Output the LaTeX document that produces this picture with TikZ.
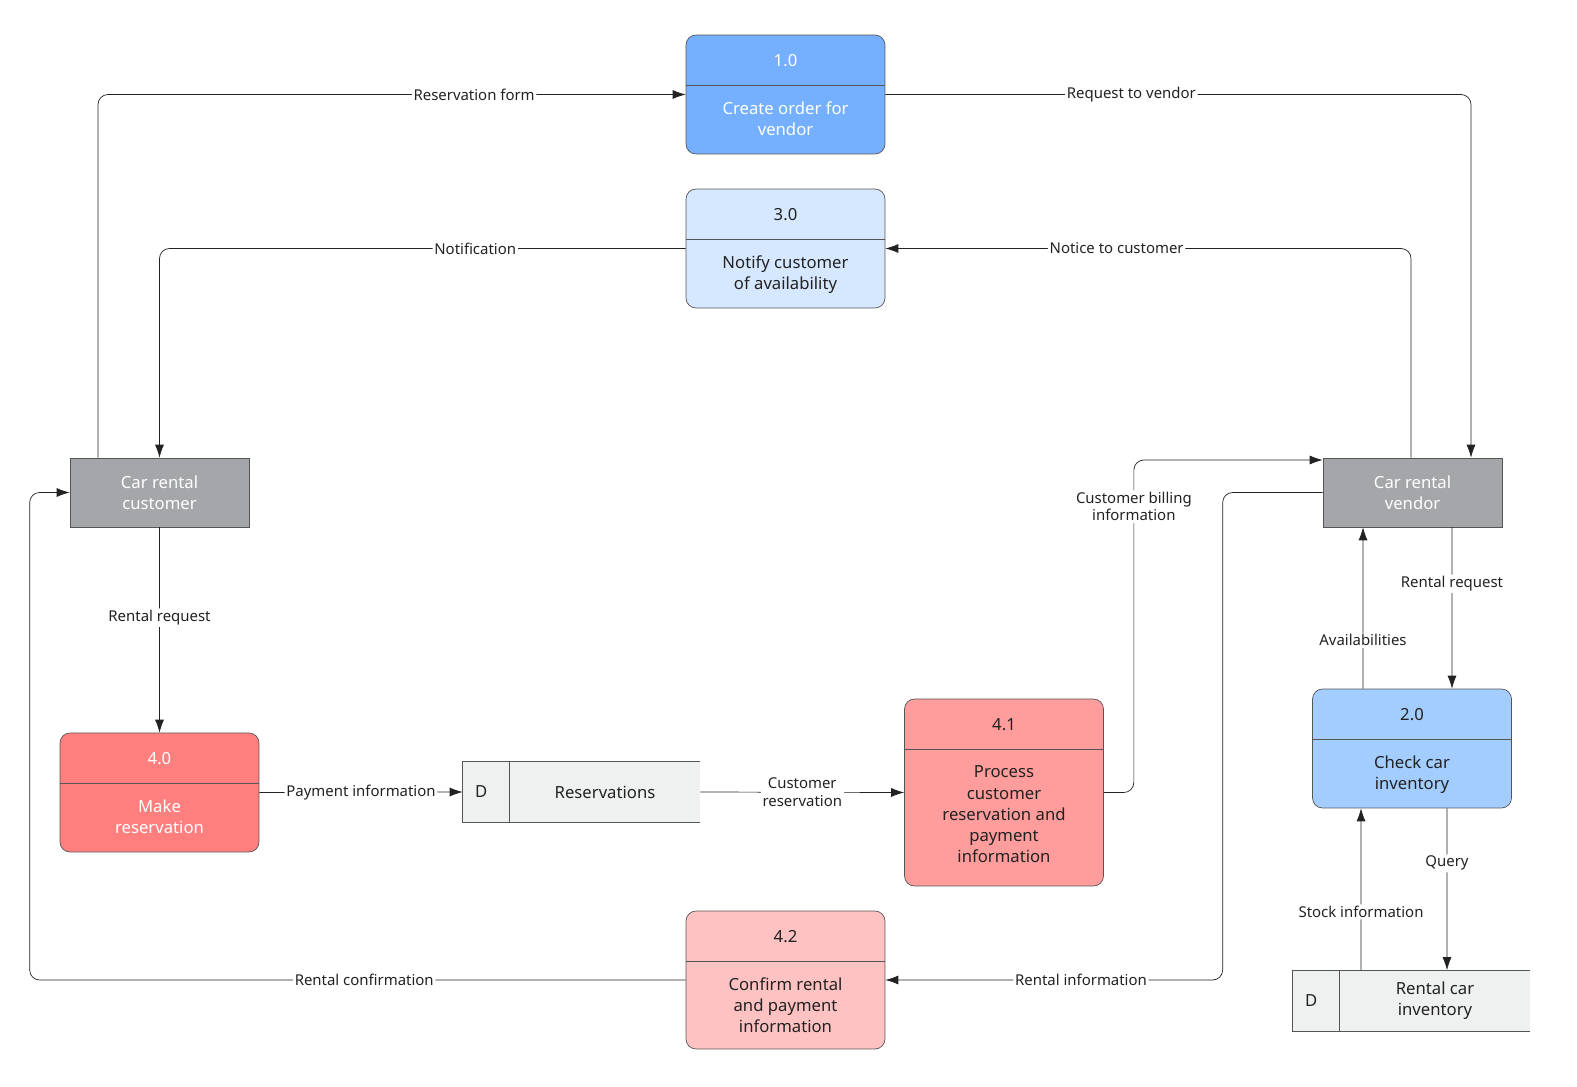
\documentclass[tikz,border=0pt]{standalone}
\usepackage{fontspec}
\setmainfont{Noto Sans}
\usetikzlibrary{arrows.meta}
\definecolor{blueA}{HTML}{74B0FF}
\definecolor{blueB}{HTML}{D6E8FF}
\definecolor{blueC}{HTML}{A3CCFF}
\definecolor{redA}{HTML}{FF7F7F}
\definecolor{redB}{HTML}{FF9C9C}
\definecolor{redC}{HTML}{FFC2C2}
\definecolor{ent}{HTML}{A5A6AA}
\definecolor{dsfill}{HTML}{EFF0F0}
\definecolor{edge}{HTML}{555555}
\definecolor{txt}{HTML}{222222}
\begin{document}
\begin{tikzpicture}[x=0.02cm,y=-0.02cm,
  proc/.style={draw=edge,rounded corners=0.2cm,minimum width=3.98cm,inner sep=0pt},
  entity/.style={draw=edge,fill=ent,text=white,minimum width=3.58cm,minimum height=1.38cm,align=center,font=\fontsize{9.5}{12}\selectfont},
  txtnode/.style={align=center,font=\fontsize{9.5}{12}\selectfont,inner sep=0pt},
  store/.style={fill=dsfill,minimum height=1.2cm,inner sep=0pt},
  lbl/.style={fill=white,inner sep=1pt,align=center,text=txt,font=\fontsize{8.5}{10}\selectfont},
  flow/.style={draw=txt,-{Latex[length=2.6mm,width=1.8mm]},rounded corners=0.2cm}]
\useasboundingbox (0,0) rectangle (1577,1087);

% processes
\node[proc,fill=blueA,minimum height=2.38cm] (p1) at (785.5,94.5) {};
\node[proc,fill=blueB,minimum height=2.38cm] (p3) at (785.5,248.5) {};
\node[proc,fill=redA,minimum height=2.38cm] (p40) at (159.5,792.5) {};
\node[proc,fill=redB,minimum height=3.74cm] (p41) at (1004,792.5) {};
\node[proc,fill=redC,minimum height=2.76cm] (p42) at (785.5,980) {};
\node[proc,fill=blueC,minimum height=2.38cm] (p20) at (1412,748.5) {};
\foreach \p/\n/\t/\c in {p1/1.0/Create order for\\vendor/white,
  p3/3.0/Notify customer\\of availability/txt,
  p40/4.0/Make\\reservation/white,
  p41/4.1/Process\\customer\\reservation and\\payment\\information/txt,
  p42/4.2/Confirm rental\\and payment\\information/txt,
  p20/2.0/Check car\\inventory/txt} {
  \draw[edge] ([yshift=-1.02cm]\p.north west) -- ([yshift=-1.02cm]\p.north east);
  \node[txtnode,text=\c] at ([yshift=-0.52cm]\p.north) {\n};
  \node[txtnode,text=\c,anchor=north] at ([yshift=-1.34cm]\p.north) {\t};
}

% entities
\node[entity] (cust) at (159.5,492.5) {Car rental\\customer};
\node[entity] (vend) at (1412.5,492.5) {Car rental\\vendor};

% data stores
\node[store,minimum width=4.74cm] (ds) at (581.5,792) {};
\node[store,minimum width=4.74cm] (ds2) at (1411.5,1000.5) {};
\foreach \d/\t in {ds/Reservations,ds2/Rental car\\inventory} {
  \draw[edge] (\d.north east) -- (\d.north west) -- (\d.south west) -- (\d.south east);
  \draw[edge] ([xshift=0.94cm]\d.north west) -- ([xshift=0.94cm]\d.south west);
  \node[txtnode,text=txt] at ([xshift=0.37cm]\d.west) {D};
  \node[txtnode,text=txt] at ([xshift=0.47cm]\d.center) {\t};
}

% flows
\draw[flow] ([xshift=-1.23cm]cust.north) |- node[lbl,pos=0.82] {Reservation form} (p1.west);
\draw[flow] (p1.east) -| node[lbl,pos=0.21] {Request to vendor} ([xshift=1.17cm]vend.north);
\draw[flow] ([xshift=-0.03cm]vend.north) |- node[lbl,pos=0.78] {Notice to customer} (p3.east);
\draw[flow] (p3.west) -| node[lbl,pos=0.2] {Notification} (cust.north);
\draw[flow] (cust.south) -- node[lbl,pos=0.44] {Rental request} (p40.north);
\draw[flow] (p40.east) -- node[lbl] {Payment information} (ds.west);
\draw[flow] (ds.east) -- node[lbl] {Customer\\reservation} (p41.west);
\draw[flow] (p41.east) -- ++(30,0) |- node[lbl,pos=0.43] {Customer billing\\information} ([yshift=0.65cm]vend.west);
\draw[flow] (vend.west) -- ++(-100,0) |- node[lbl,pos=0.71] {Rental information} (p42.east);
\draw[flow] (p42.west) -- node[lbl,pos=0.49] {Rental confirmation} ++(-656,0) |- (cust.west);
\draw[flow] ([xshift=0.79cm]vend.south) -- node[lbl,pos=0.35] {Rental request} ([xshift=0.8cm]p20.north);
\draw[flow] ([xshift=-0.98cm]p20.north) -- node[lbl,pos=0.3] {Availabilities} ([xshift=-0.99cm]vend.south);
\draw[flow] ([xshift=0.7cm]p20.south) -- node[lbl,pos=0.34] {Query} ([xshift=0.71cm]ds2.north);
\draw[flow] ([xshift=-1.01cm]ds2.north) -- node[lbl,pos=0.36] {Stock information} ([xshift=-1.02cm]p20.south);
\end{tikzpicture}
\end{document}
